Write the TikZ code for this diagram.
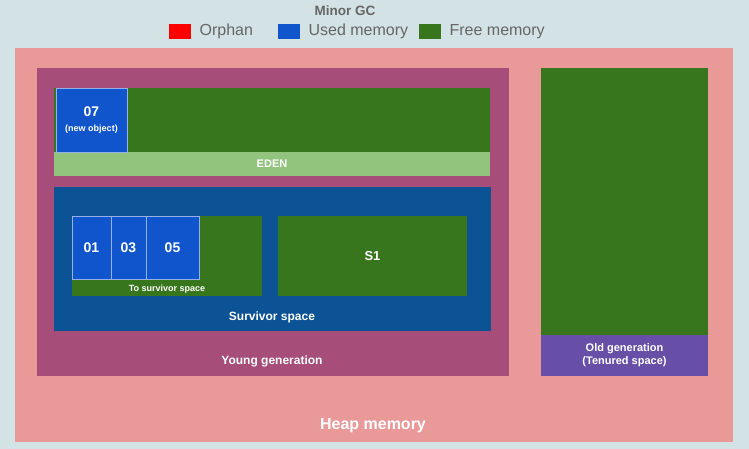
\documentclass[tikz,border=0pt]{standalone}
\usepackage{fontspec}
\setmainfont{Liberation Sans}
\usetikzlibrary{positioning}
\definecolor{bgcol}{HTML}{D3E2E5}
\definecolor{heapcol}{HTML}{EA9999}
\definecolor{youngcol}{HTML}{A64D79}
\definecolor{freecol}{HTML}{38761D}
\definecolor{edencol}{HTML}{93C47D}
\definecolor{survcol}{HTML}{0B5394}
\definecolor{usedcol}{HTML}{1155CC}
\definecolor{oldcol}{HTML}{674EA7}
\definecolor{orphcol}{HTML}{FF0000}
\definecolor{txtcol}{HTML}{666666}
\tikzset{
  area/.style={anchor=north west, inner sep=0pt, outer sep=0pt},
  obj/.style={area, fill=usedcol, draw=white!55!usedcol, line width=0.8pt,
        text=white, font=\bfseries\fontsize{14}{16}\selectfont, align=center},
  lbl/.style={text=white, font=\bfseries\fontsize{12}{14}\selectfont, align=center, inner sep=0pt},
  swatch/.style={inner sep=0pt, minimum width=22pt, minimum height=15pt},
  legtext/.style={text=txtcol, font=\fontsize{16}{18}\selectfont, inner sep=0pt, anchor=west}
}
\begin{document}
\begin{tikzpicture}[x=1pt, y=-1pt]
  \fill[bgcol] (0,0) rectangle (749,449);
  \useasboundingbox (0,0) rectangle (749,449);

  % title and legend
  \node[text=txtcol, font=\bfseries\fontsize{13.5}{15}\selectfont] (title) at (345,11) {Minor GC};
  \node[swatch, fill=orphcol, anchor=north west] (sorph) at (169,24) {};
  \node[legtext, right=8pt of sorph] (lorph) {Orphan};
  \node[swatch, fill=usedcol, anchor=north west] (sused) at (278,24) {};
  \node[legtext, right=8pt of sused] (lused) {Used memory};
  \node[swatch, fill=freecol, anchor=north west] (sfree) at (419,24) {};
  \node[legtext, right=8pt of sfree] (lfree) {Free memory};

  % heap
  \node[area, fill=heapcol, minimum width=718pt, minimum height=394pt] (heap) at (15,48) {};
  \node[lbl, font=\bfseries\fontsize{16}{18}\selectfont] (lheap) at (373,426) {Heap memory};

  % young generation
  \node[area, fill=youngcol, minimum width=472pt, minimum height=308pt] (young) at (37,68) {};
  \node[lbl] (lyoung) at (272,361) {Young generation};

  % eden
  \node[area, fill=freecol, minimum width=436pt, minimum height=64pt] (eden) at (54,88) {};
  \node[area, fill=edencol, minimum width=436pt, minimum height=24pt] (edenbar) at (54,152) {};
  \node[lbl, font=\bfseries\fontsize{11}{13}\selectfont] (leden) at (edenbar.center) {EDEN};
  \node[obj, minimum width=71pt, minimum height=64pt] (o7) at (56,88)
      {07\\[-1pt]{\fontsize{9}{11}\selectfont (new object)}};

  % survivor space
  \node[area, fill=survcol, minimum width=437pt, minimum height=144pt] (surv) at (54,187) {};
  \node[lbl] (lsurv) at (272,317) {Survivor space};
  \node[area, fill=freecol, minimum width=190pt, minimum height=80pt] (s0) at (72,216) {};
  \node[lbl, font=\bfseries\fontsize{9}{11}\selectfont] (ls0) at (167,289) {To survivor space};
  \node[obj, minimum width=39pt, minimum height=63pt] (o1) at (72,216) {01};
  \node[obj, minimum width=35pt, minimum height=63pt] (o3) at (111,216) {03};
  \node[obj, minimum width=53pt, minimum height=63pt] (o5) at (146,216) {05};
  \node[area, fill=freecol, minimum width=189pt, minimum height=80pt] (s1) at (278,216) {};
  \node[lbl, font=\bfseries\fontsize{13}{15}\selectfont] (ls1) at (s1.center) {S1};

  % old generation
  \node[area, fill=freecol, minimum width=167pt, minimum height=267pt] (old) at (541,68) {};
  \node[area, fill=oldcol, minimum width=167pt, minimum height=41pt] (oldbar) at (541,335) {};
  \node[lbl, font=\bfseries\fontsize{11}{13}\selectfont] (lold) at (oldbar.center)
      {Old generation\\(Tenured space)};
\end{tikzpicture}
\end{document}
